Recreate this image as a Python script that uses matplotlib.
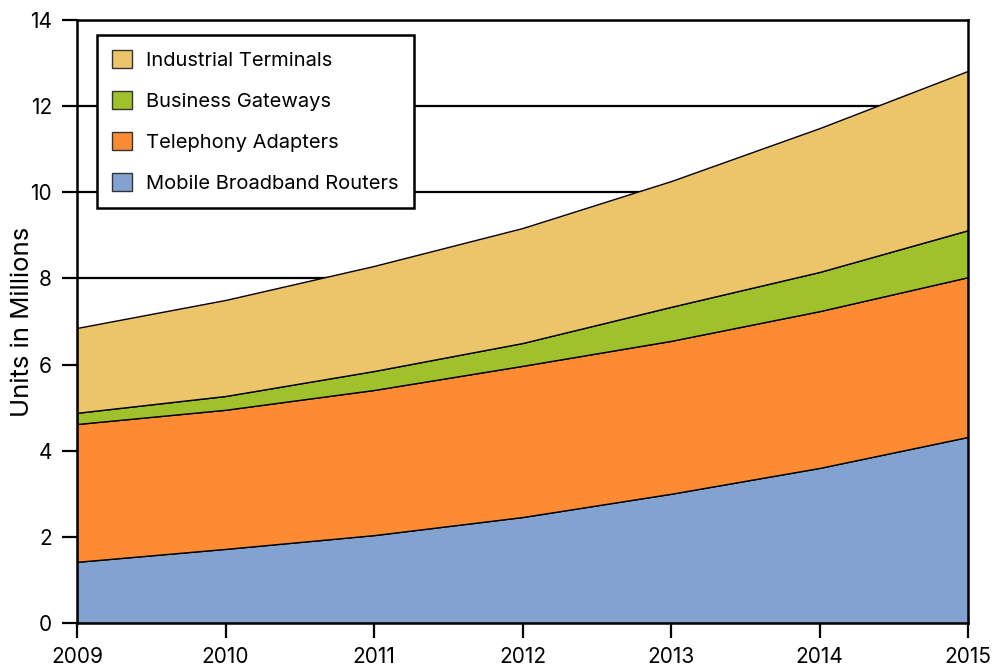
import matplotlib
matplotlib.use("Agg")
import matplotlib.pyplot as plt
from matplotlib.patches import Patch

plt.rcParams['font.family'] = ['Inter', 'DejaVu Sans']

years = [2009, 2010, 2011, 2012, 2013, 2014, 2015]
mobile_broadband = [1.42, 1.72, 2.04, 2.46, 3.00, 3.60, 4.32]
telephony = [3.20, 3.23, 3.37, 3.51, 3.55, 3.64, 3.71]
business = [0.26, 0.32, 0.44, 0.53, 0.79, 0.91, 1.09]
industrial = [1.97, 2.23, 2.44, 2.67, 2.92, 3.34, 3.70]

labels = ["Mobile Broadband Routers", "Telephony Adapters", "Business Gateways", "Industrial Terminals"]
colors = ["#82A2D0", "#FC8B33", "#9FC12B", "#ECC46A"]

fig = plt.figure(figsize=(9.95, 6.66), dpi=100)
ax = fig.add_axes([0.0774, 0.0646, 0.8956, 0.9054])

ax.stackplot(years, mobile_broadband, telephony, business, industrial,
             colors=colors, edgecolor="black", linewidth=1.0, zorder=3)

ax.set_xlim(2009, 2015)
ax.set_ylim(0, 14)
ax.set_xticks(years)
ax.set_xticklabels([str(y) for y in years])
ax.set_yticks(range(0, 15, 2))
ax.yaxis.grid(True, color="black", linewidth=1.6, zorder=1)
ax.set_axisbelow(True)
ax.tick_params(axis="both", direction="out", length=11, width=1.6, labelsize=15, colors="black", pad=6)
ax.tick_params(axis="y", pad=7)
for s in ax.spines.values():
    s.set_linewidth(1.8)
    s.set_color("black")
    s.set_zorder(5)
ax.set_ylabel("Units in Millions", fontsize=18.5)
ax.yaxis.set_label_coords(-0.048, 0.5)

handles = [Patch(facecolor=c, edgecolor="#333333", linewidth=1.0) for c in colors]
leg = ax.legend(handles[::-1], labels[::-1], loc="upper left", bbox_to_anchor=(0.022, 0.975),
                prop={'size': 14.5}, frameon=True, fancybox=False, framealpha=1, edgecolor="black",
                handlelength=1.0, handleheight=1.0, labelspacing=1.05, borderpad=0.75, handletextpad=0.7,
                borderaxespad=0)
leg.get_frame().set_linewidth(1.8)
leg.set_zorder(10)

fig.savefig("out.png", dpi=100)
